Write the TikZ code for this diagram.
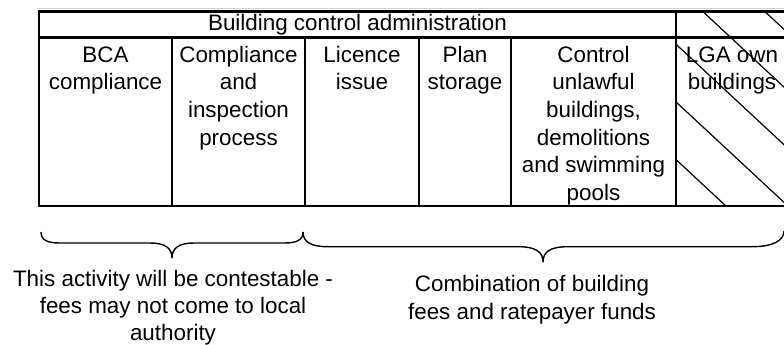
\documentclass[tikz,border=0pt]{standalone}
\usepackage{fontspec}
\setmainfont{Liberation Sans}
\newcommand\cellfont{\fontsize{22.4}{27.6}\selectfont}
\newcommand\notefont{\fontsize{22.4}{26.6}\selectfont}
\begin{document}
\begin{tikzpicture}[x=1pt,y=-1pt,
  gridline/.style={line width=2.6pt, line join=miter},
  hatchline/.style={line width=1.2pt},
  bracepath/.style={line width=1.4pt, line join=round},
  celltext/.style={font=\cellfont, align=center, anchor=north, inner sep=0pt},
  notetext/.style={font=\notefont, align=center, anchor=north, inner sep=0pt},
  headtext/.style={font=\cellfont, anchor=base, inner sep=0pt}]
\useasboundingbox (0,0) rectangle (784,345);

% faint rule above the table
\draw[gray!35, line width=0.8pt] (37,8.3) -- (784,8.3);

% hatching of the last column
\begin{scope}
  \clip (676,11.7) rectangle (784,206);
  \foreach \s in {517,579,641,703,765}
    \draw[hatchline] (\s,11.7) -- ++(250,232.5);
\end{scope}

% table frame and dividers
\draw[gridline] (784,11.7) -- (39,11.7) -- (39,206) -- (784,206);
\draw[gridline] (39,37.3) -- (784,37.3);
\foreach \x in {172,305,419,511}
  \draw[gridline] (\x,37.3) -- (\x,206);
\draw[gridline] (676,11.7) -- (676,206);

% header
\node[headtext] (head) at (357.5,31) {Building control administration};

% column labels
\node[celltext] (bca)  at (105.5,42.7) {\strut BCA\\compliance};
\node[celltext] (insp) at (238.5,42.7) {\strut Compliance\\and\\inspection\\process};
\node[celltext] (lic)  at (362,42.7)   {\strut Licence\\issue};
\node[celltext] (plan) at (465,42.7)   {\strut Plan\\storage};
\node[celltext] (ctrl) at (593.5,42.7) {\strut Control\\unlawful\\buildings,\\demolitions\\and swimming\\pools};
\node[celltext] (lga)  at (732,42.7)   {\strut LGA own\\buildings};

% braces
\coordinate (lb-l) at (41,232);
\coordinate (lb-t) at (172,258);
\coordinate (mid)  at (303,232);
\coordinate (rb-t) at (543,262);
\coordinate (rb-r) at (784,231);

\draw[bracepath] (lb-l) .. controls (41,240) and (47,243) .. (60,243)
  -- (150,243) .. controls (165,243) and (172,248) .. (lb-t)
  .. controls (172,248) and (179,243) .. (194,243)
  -- (284,243) .. controls (297,243) and (303,240) .. (mid);
\draw[bracepath] (mid) .. controls (303,242) and (311,246.7) .. (328,246.7)
  -- (518,246.7) .. controls (536,246.7) and (543,252) .. (rb-t)
  .. controls (543,252) and (550,246.7) .. (568,246.7)
  -- (752,246.7) .. controls (774,246.7) and (784,240) .. (rb-r);

% captions
\node[notetext] (left-note)  at (173,268) {\strut This activity will be contestable -\\fees may not come to local\\authority};
\node[celltext] (right-note) at (532,272.4) {\strut Combination of building\\fees and ratepayer funds};
\end{tikzpicture}
\end{document}
